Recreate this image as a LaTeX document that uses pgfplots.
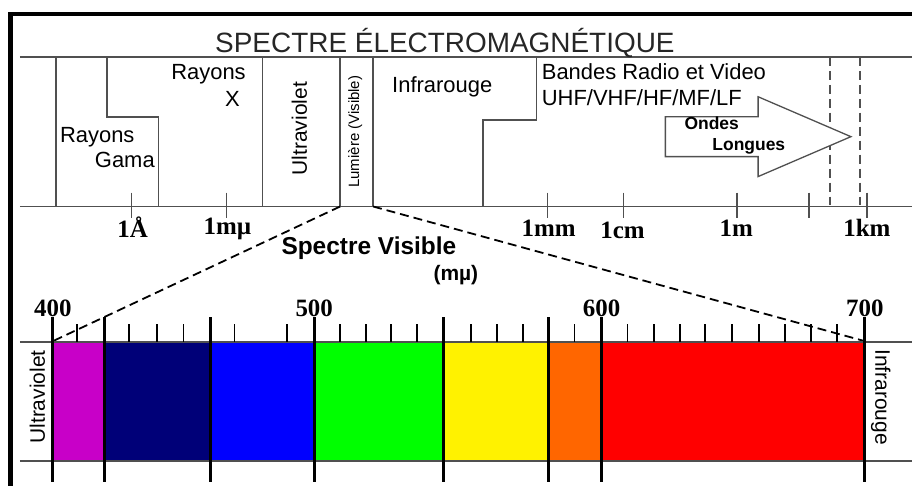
\documentclass[border=0pt]{standalone}
\usepackage{pgfplots}
\pgfplotsset{compat=1.18}
\usepackage{pgfplotstable}
\usepackage{fontspec}
\setmainfont{Liberation Sans}
\newfontfamily\numfont{Liberation Serif}
\definecolor{lg}{RGB}{80,80,80}
\definecolor{cviolet}{RGB}{200,0,200}
\definecolor{cnavy}{RGB}{0,0,120}
\definecolor{cblue}{RGB}{0,0,255}
\definecolor{cgreen}{RGB}{0,255,0}
\definecolor{cyellow}{RGB}{255,242,0}
\definecolor{corange}{RGB}{255,102,0}
\definecolor{cred}{RGB}{255,0,0}
\tikzset{
  ln/.style={lg,line width=1.6pt},
  lab/.style={font=\fontsize{22}{24}\selectfont,anchor=base west,inner sep=0pt},
  num/.style={font=\numfont\bfseries\fontsize{25}{27}\selectfont,anchor=base,inner sep=0pt}}
\pgfplotstableread{
x y
132 193
227 193
549 193
625 193
739 193
811 193
869 193
}\toptics
\pgfplotstableread{
x y
77 325
129 325
157 325
184 325
235 325
288 325
341 325
367 325
392 325
418 325
472 325
498 325
524 325
576 325
629 325
656 325
682 325
707 325
734 325
761 325
787 325
813 325
839 325
}\minortics
\pgfplotstableread{
x y
53 318
105 318
211 318
315 318
445 318
550 318
603 318
867 318
}\majorlines
\begin{document}
\begin{tikzpicture}
\begin{axis}[x=1pt,y=1pt,xmin=0,xmax=914,ymin=0,ymax=487,y dir=reverse,
  hide axis,clip=false]
\path (axis cs:0,0) rectangle (axis cs:914,487);
% colour bands
\addplot[fill=cviolet,draw=none] coordinates {(53,343)(105,343)(105,462)(53,462)} -- cycle;
\addplot[fill=cnavy,draw=none] coordinates {(105,343)(211,343)(211,462)(105,462)} -- cycle;
\addplot[fill=cblue,draw=none] coordinates {(211,343)(315,343)(315,462)(211,462)} -- cycle;
\addplot[fill=cgreen,draw=none] coordinates {(315,343)(445,343)(445,462)(315,462)} -- cycle;
\addplot[fill=cyellow,draw=none] coordinates {(445,343)(550,343)(550,462)(445,462)} -- cycle;
\addplot[fill=corange,draw=none] coordinates {(550,343)(603,343)(603,462)(550,462)} -- cycle;
\addplot[fill=cred,draw=none] coordinates {(603,343)(867,343)(867,462)(603,462)} -- cycle;
% frame
\addplot[black,line width=4.5pt,no markers] coordinates {(10.5,487)(10.5,14)(914,14)};
% top spectrum
\addplot[ln,no markers] coordinates {(20,57)(914,57)};
\addplot[ln,no markers] coordinates {(20,207)(914,207)};
\addplot[ln,no markers] coordinates {(56,57)(56,207)};
\addplot[ln,no markers] coordinates {(107,57)(107,117)(159,117)(159,207)};
\addplot[ln,no markers] coordinates {(263,57)(263,207)};
\addplot[ln,no markers] coordinates {(341,57)(341,207)};
\addplot[ln,no markers] coordinates {(374,57)(374,207)};
\addplot[ln,no markers] coordinates {(538,57)(538,120)(484,120)(484,207)};
\addplot[ln,no markers,dash pattern=on 9pt off 5pt] coordinates {(832,57)(832,207)};
\addplot[ln,no markers,dash pattern=on 9pt off 5pt] coordinates {(862,57)(862,207)};
\addplot[ln,quiver={u=0,v=26}] table {\toptics};
\addplot[lg,line width=1.3pt,fill=white,no markers] coordinates {(667,117)(760,117)(760,97)(853,137)(760,177)(760,157)(667,157)} -- cycle;
% zoom lines
\addplot[black,line width=1.8pt,dash pattern=on 9pt off 5pt,no markers] coordinates {(341,207)(53,342)};
\addplot[black,line width=1.8pt,dash pattern=on 9pt off 5pt,no markers] coordinates {(374,207)(867,342)};
% visible bar
\addplot[ln,no markers] coordinates {(20,343)(914,343)};
\addplot[ln,no markers] coordinates {(20,462)(914,462)};
\addplot[black,line width=1.8pt,quiver={u=0,v=18}] table {\minortics};
\addplot[black,line width=3pt,quiver={u=0,v=165}] table {\majorlines};
% texts
\node[font=\fontsize{28}{30}\selectfont,anchor=base,inner sep=0pt,text=black!85] at (axis cs:446,53) {SPECTRE ÉLECTROMAGNÉTIQUE};
\node[lab,anchor=base] at (axis cs:209,80) {Rayons};
\node[lab,anchor=base] at (axis cs:233,107) {X};
\node[lab] at (axis cs:60,143) {Rayons};
\node[lab] at (axis cs:95,168) {Gama};
\node[lab] at (axis cs:393,93) {Infrarouge};
\node[lab] at (axis cs:543,80) {Bandes Radio et Video};
\node[lab] at (axis cs:543,106) {UHF/VHF/HF/MF/LF};
\node[font=\bfseries\fontsize{17.5}{19}\selectfont,anchor=base west,inner sep=0pt] at (axis cs:686,130) {Ondes};
\node[font=\bfseries\fontsize{17.5}{19}\selectfont,anchor=base west,inner sep=0pt] at (axis cs:714,151) {Longues};
\node[font=\fontsize{21}{23}\selectfont,rotate=90,inner sep=0pt] at (axis cs:300,129) {Ultraviolet};
\node[font=\fontsize{15}{17}\selectfont,rotate=90,inner sep=0pt] at (axis cs:356,132) {Lumière (Visible)};
\node[num] at (axis cs:133,238) {1Å};
\node[num] at (axis cs:228,235) {1mµ};
\node[num] at (axis cs:550,237) {1mm};
\node[num] at (axis cs:624,239) {1cm};
\node[num] at (axis cs:738,237) {1m};
\node[num] at (axis cs:869,237) {1km};
\node[font=\bfseries\fontsize{24.5}{26}\selectfont,anchor=base west,inner sep=0pt] at (axis cs:282,255) {Spectre Visible};
\node[font=\bfseries\fontsize{21}{23}\selectfont,anchor=base,inner sep=0pt] at (axis cs:457,281) {(mµ)};
\node[num] at (axis cs:53,317) {400};
\node[num] at (axis cs:315,317) {500};
\node[num] at (axis cs:603,317) {600};
\node[num] at (axis cs:867,317) {700};
\node[font=\fontsize{21}{23}\selectfont,rotate=90,inner sep=0pt] at (axis cs:37.5,398) {Ultraviolet};
\node[font=\fontsize{21}{23}\selectfont,rotate=-90,inner sep=0pt] at (axis cs:883,398) {Infrarouge};
\end{axis}
\end{tikzpicture}
\end{document}
